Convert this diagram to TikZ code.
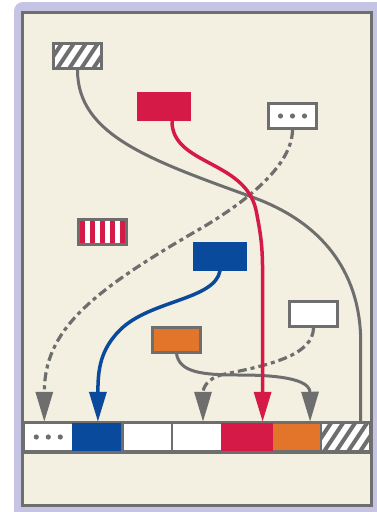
\documentclass[tikz,border=0pt]{standalone}
\usetikzlibrary{arrows.meta}
\definecolor{gg}{HTML}{6E6E6E}
\definecolor{beige}{HTML}{F3EFE1}
\definecolor{lav}{HTML}{C6C4E4}
\definecolor{crim}{HTML}{D51A48}
\definecolor{navy}{HTML}{0A4A9D}
\definecolor{orng}{HTML}{E3752B}
\tikzset{
  boxb/.style={minimum width=48pt, minimum height=25pt, inner sep=0pt, draw=gg, line width=3pt},
  plainb/.style={minimum width=54pt, minimum height=29pt, inner sep=0pt},
  cell/.style={minimum width=49.57pt, minimum height=28pt, inner sep=0pt, draw=gg, line width=2.5pt},
  hatchfill/.style={fill=white, path picture={\foreach \i in {-36,-24,...,36} \draw[gg, line width=4pt] ([xshift=\i*1pt]path picture bounding box.center) ++(-12pt,-18pt) -- ++(24pt,36pt);}},
  dotsfill/.style={fill=white, path picture={\foreach \i in {-12,0,12} \fill[gg] ([xshift=\i*1pt]path picture bounding box.center) circle (2.6pt);}},
  stripefill/.style={fill=white, path picture={\foreach \i in {-20,-10,...,20} \fill[crim] ([xshift=\i*1pt]path picture bounding box.center) +(-2.5pt,-20pt) rectangle +(2.5pt,20pt);}},
  tip/.style={-{Triangle[width=17pt,length=30pt]}},
  conn/.style={line width=3pt, gg},
  dconn/.style={line width=3.2pt, gg, dash pattern=on 9pt off 4pt on 4pt off 4pt},
}
\begin{document}
\begin{tikzpicture}[x=1pt, y=-1pt]
\useasboundingbox (0,0) rectangle (376,512);
\fill[white] (0,0) rectangle (376,512);
\fill[lav, rounded corners=9pt] (14,2) rectangle (390,522);
\draw[gg, line width=3.5pt, fill=beige] (22.5,12.5) rectangle (371.5,505.5);

% free boxes
\node[boxb, hatchfill] (hatch) at (77.5,56) {};
\node[plainb, fill=crim] (red) at (164,106.5) {};
\node[boxb, dotsfill] (dots) at (292.5,116) {};
\node[boxb, stripefill] (stripe) at (102.5,231.5) {};
\node[plainb, fill=navy] (blue) at (220,256) {};
\node[boxb, fill=white] (white) at (313.5,314) {};
\node[boxb, fill=orng] (orange) at (176.5,340) {};

% bar cells
\node[cell, dotsfill] (c0) at (48.3,437) {};
\node[cell, fill=navy, draw=navy] (c1) at (97.9,437) {};
\node[cell, fill=white] (c2) at (147.4,437) {};
\node[cell, fill=white] (c3) at (197.0,437) {};
\node[cell, fill=orng] (c5) at (296.1,437) {};
\node[cell, hatchfill] (c6) at (345.7,437) {};
\node[cell, fill=crim, draw=crim] (c4) at (246.6,437) {};
\draw[gg, line width=2.5pt] (c0.north west) -- (c6.north east);
\draw[gg, line width=2.5pt] (c0.south west) -- (c6.south east);

% connectors
\draw[conn] (hatch.south) .. controls (77.5,135) and (150,160) .. (252,197)
  .. controls (330,225) and (360,280) .. (360.7,340) -- ([xshift=15pt]c6.north);
\draw[dconn, tip] (dots.south) .. controls (292,165) and (248,200) .. (205,226)
  .. controls (90,292) and (44.3,330) .. ([xshift=-4pt]c0.north);
\draw[conn, tip] (orange.south) .. controls (180,372) and (200,375) .. (240,375)
  .. controls (300,375) and (310,385) .. ([xshift=14pt]c5.north);
\draw[dconn, tip] (white.south) .. controls (313,355) and (270,365) .. (225,374)
  .. controls (205,378) and (203,390) .. ([xshift=6pt]c3.north);
\draw[line width=3.5pt, navy, tip] (blue.south) .. controls (215,300) and (150,300) .. (120,330)
  .. controls (100,350) and (97.9,370) .. (c1.north);
\draw[line width=3.5pt, crim, tip] ([xshift=8pt]red.south) .. controls (172,165) and (245,160) .. (256,210)
  .. controls (262,240) and (262.6,250) .. (262.6,280) -- ([xshift=16pt]c4.north);
\end{tikzpicture}
\end{document}
